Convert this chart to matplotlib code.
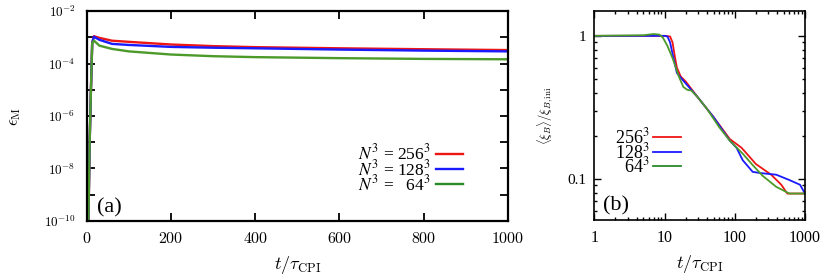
import math
import matplotlib
matplotlib.use('Agg')
import matplotlib.pyplot as plt
from matplotlib.ticker import FixedLocator, FuncFormatter, LogLocator, NullFormatter
from matplotlib.font_manager import FontProperties

plt.rcParams['font.family'] = ['Liberation Serif', 'DejaVu Serif']
plt.rcParams['mathtext.fontset'] = 'cm'

# panel (a): epsilon_M vs t/tau_CPI
t_a = [0, 4, 7, 10, 13, 17, 30, 60, 100, 200, 300, 400, 600, 800, 1000]
eps_256 = [1e-10, 1e-10, 1e-7, 1e-5, 6e-4, 1.1e-3, 9.5e-4, 7.4e-4, 6.7e-4, 5.3e-4, 4.6e-4, 4.2e-4, 3.8e-4, 3.5e-4, 3.25e-4]
eps_128 = [1e-10, 1e-10, 1e-7, 1e-5, 6e-4, 1.05e-3, 8.0e-4, 5.6e-4, 5.1e-4, 4.3e-4, 4.0e-4, 3.8e-4, 3.4e-4, 3.1e-4, 2.9e-4]
eps_64 = [1e-10, 1e-10, 1e-7, 1e-5, 6e-4, 7.5e-4, 4.8e-4, 3.6e-4, 2.9e-4, 2.2e-4, 1.9e-4, 1.75e-4, 1.6e-4, 1.5e-4, 1.45e-4]

# panel (b): <xi_B>/xi_B,ini vs t/tau_CPI
t_256 = [1, 5, 10, 12, 13, 14, 15, 17, 20, 30, 50, 85, 125, 200, 330, 460, 560, 1000]
xi_256 = [1.0, 1.0, 1.0, 0.99, 0.9, 0.72, 0.6, 0.52, 0.48, 0.37, 0.27, 0.19, 0.165, 0.127, 0.107, 0.091, 0.079, 0.079]
t_128 = [1, 5, 10, 11, 12, 13, 15, 17, 30, 50, 85, 106, 130, 180, 227, 390, 605, 850, 1000]
xi_128 = [1.0, 1.0, 1.0, 0.99, 0.9, 0.75, 0.55, 0.51, 0.37, 0.27, 0.185, 0.165, 0.135, 0.112, 0.11, 0.107, 0.098, 0.091, 0.079]
t_64 = [1, 5, 7, 8.5, 9.5, 11, 13, 16, 18.5, 21, 24, 30, 40, 60, 85, 130, 180, 250, 390, 600, 1000]
xi_64 = [1.0, 1.01, 1.03, 1.02, 0.97, 0.85, 0.70, 0.52, 0.44, 0.42, 0.415, 0.37, 0.31, 0.23, 0.185, 0.15, 0.125, 0.105, 0.088, 0.079, 0.079]

labels_a = [r'$N^3$ = 256$^3$', r'$N^3$ = 128$^3$', r'$N^3$ =   64$^3$']
labels_b = [r'256$^3$', r'128$^3$', r'  64$^3$']

red, blue, green = '#ee1515', '#1a1aff', '#4c9a2a'

fig = plt.figure(figsize=(8.22, 2.77), dpi=100)
axa = fig.add_axes([0.1055, 0.2022, 0.5125, 0.758])
axb = fig.add_axes([0.723, 0.204, 0.2563, 0.7575])

# ---- (a)
axa.plot(t_a, eps_256, color=red, lw=1.7, label=labels_a[0])
axa.plot(t_a, eps_128, color=blue, lw=1.7, label=labels_a[1])
axa.plot(t_a, eps_64, color=green, lw=1.7, label=labels_a[2])
axa.set_yscale('log')
axa.set_xlim(0, 1000)
axa.set_ylim(1e-10, 1e-2)
axa.yaxis.set_major_locator(FixedLocator([10.0 ** k for k in range(-10, -1)]))
axa.yaxis.set_minor_locator(FixedLocator([]))


def even_decades(v, p):
    k = round(math.log10(v))
    return r'$10^{%d}$' % k if k % 2 == 0 else ''


axa.yaxis.set_major_formatter(FuncFormatter(even_decades))
axa.xaxis.set_major_locator(FixedLocator([0, 200, 400, 600, 800, 1000]))
axa.xaxis.set_major_formatter(FuncFormatter(lambda v, p: r'$%d$' % v))
axa.tick_params(which='both', direction='in', top=True, right=True, length=6, width=1.3)
axa.tick_params(axis='y', labelsize=9.5, pad=8)
axa.tick_params(axis='x', labelsize=11.5, pad=7)
for s in axa.spines.values():
    s.set_linewidth(1.6)
axa.set_xlabel(r'$t/\tau_\mathrm{CPI}$', fontsize=13, labelpad=5)
axa.set_ylabel(r'$\epsilon_\mathrm{M}$', fontsize=12, labelpad=15)
axa.text(0.024, 0.04, '(a)', transform=axa.transAxes, fontsize=16)
leg_a = axa.legend(loc='center right', bbox_to_anchor=(0.893, 0.248), frameon=False,
                   markerfirst=False, borderpad=0, borderaxespad=0, handlelength=1.55,
                   handletextpad=0.3, labelspacing=-0.28,
                   prop=FontProperties(family='Liberation Serif', size=12.5, math_fontfamily='stix'))
leg_a.get_lines()[2].set_color('#2a8a2a')

# ---- (b)
axb.plot(t_256, xi_256, color=red, lw=1.3, label=labels_b[0])
axb.plot(t_128, xi_128, color=blue, lw=1.3, label=labels_b[1])
axb.plot(t_64, xi_64, color=green, lw=1.3, label=labels_b[2])
axb.set_xscale('log')
axb.set_yscale('log')
axb.set_xlim(1, 1000)
axb.set_ylim(0.0512, 1.5)
axb.xaxis.set_major_locator(FixedLocator([1, 10, 100, 1000]))
axb.xaxis.set_major_formatter(FuncFormatter(lambda v, p: '%d' % v))
axb.xaxis.set_minor_locator(LogLocator(base=10, subs=range(2, 10)))
axb.xaxis.set_minor_formatter(NullFormatter())
axb.yaxis.set_major_locator(FixedLocator([0.1, 1]))
axb.yaxis.set_major_formatter(FuncFormatter(lambda v, p: '%g' % v))
axb.yaxis.set_minor_locator(LogLocator(base=10, subs=range(2, 10)))
axb.yaxis.set_minor_formatter(NullFormatter())
axb.tick_params(which='both', direction='in', top=True, right=True, width=1.0)
axb.tick_params(which='major', length=5)
axb.tick_params(which='minor', length=2.5)
axb.tick_params(axis='y', labelsize=11, pad=6)
axb.tick_params(axis='x', labelsize=11.5, pad=7)
for s in axb.spines.values():
    s.set_linewidth(1.2)
axb.set_xlabel(r'$t/\tau_\mathrm{CPI}$', fontsize=13, labelpad=5)
axb.set_ylabel(r'$\langle\xi_B\rangle/\xi_{B,\mathrm{ini}}$', fontsize=9, labelpad=8)
axb.text(0.04, 0.05, '(b)', transform=axb.transAxes, fontsize=16)
leg_b = axb.legend(loc='center right', bbox_to_anchor=(0.411, 0.3265), frameon=False,
                   markerfirst=False, borderpad=0, borderaxespad=0, handlelength=1.55,
                   handletextpad=0.2, labelspacing=-0.3,
                   prop=FontProperties(family='Liberation Serif', size=13, math_fontfamily='stix'))
leg_b.get_lines()[2].set_color('#2a8a2a')

fig.savefig('out.png', dpi=100)
